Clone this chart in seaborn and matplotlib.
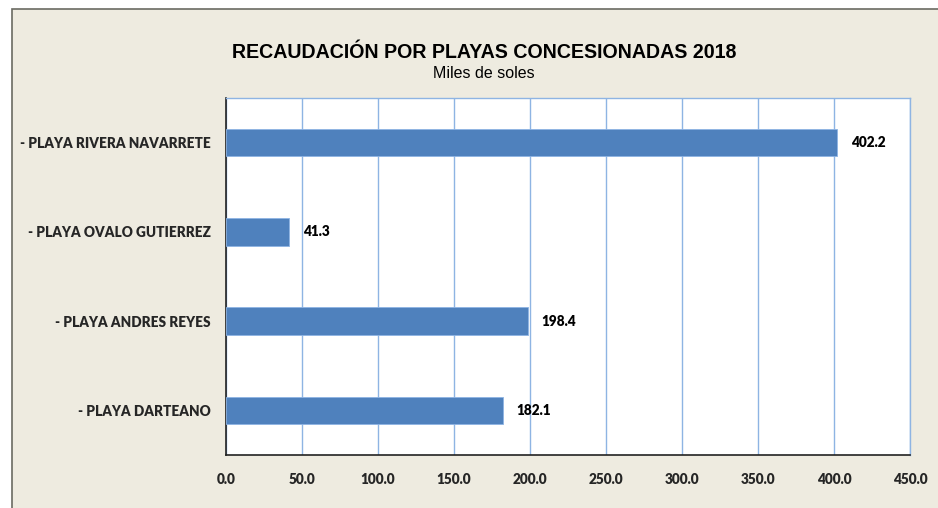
import matplotlib
matplotlib.use("Agg")
import matplotlib.pyplot as plt
import seaborn as sns
import pandas as pd
from matplotlib.patches import Rectangle

categories = ["- PLAYA RIVERA NAVARRETE", "- PLAYA OVALO GUTIERREZ", "- PLAYA ANDRES REYES", "- PLAYA DARTEANO"]
values = [402.2, 41.3, 198.4, 182.1]
xticks = [0, 50, 100, 150, 200, 250, 300, 350, 400, 450]

sns.set_theme(style="white")
plt.rcParams['font.family'] = ['Lato', 'DejaVu Sans']

W, H = 938, 508
fig = plt.figure(figsize=(W / 100, H / 100), dpi=100, facecolor="white")
bg = Rectangle((12 / W, -0.01), 1.0, 1 - 9 / H + 0.01, transform=fig.transFigure,
               facecolor="#EEEBE0", edgecolor="#6b6b62", linewidth=1.2, zorder=-10)
fig.patches.append(bg)

ax = fig.add_axes([226 / W, 1 - 455 / H, (910 - 226) / W, (455 - 98) / H])
ax.set_zorder(5)
ax.set_facecolor("white")

df = pd.DataFrame({"cat": categories, "val": values})
sns.barplot(data=df, x="val", y="cat", orient="h", color="#4F81BD", saturation=1,
            width=0.31, ax=ax, zorder=3, edgecolor="#8EB4E3", linewidth=0.6)

wt = "heavy"
ax.set_xlim(0, 450)
ax.set_xticks(xticks)
ax.set_xticklabels([f"{v:.1f}" for v in xticks], fontsize=9.8, fontweight=wt)
ax.tick_params(axis="x", length=0, pad=13)
ax.tick_params(axis="y", length=0, pad=11)
for lbl in ax.get_yticklabels():
    lbl.set_fontsize(9.8)
    lbl.set_fontweight(wt)
ax.set_xlabel("")
ax.set_ylabel("")
ax.grid(axis="x", color="#8EB4E3", linewidth=1.0, zorder=0)
ax.set_axisbelow(True)

for side in ["top", "right"]:
    ax.spines[side].set_color("#8EB4E3")
    ax.spines[side].set_linewidth(1.0)
for side in ["bottom", "left"]:
    ax.spines[side].set_color("#222222")
    ax.spines[side].set_linewidth(1.2)

for cont in ax.containers:
    ax.bar_label(cont, labels=[f"{v:.1f}" for v in values], padding=10,
                 fontsize=9.8, fontweight=wt, color="black")

fig.text(484 / W, 1 - 53 / H, "RECAUDACIÓN POR PLAYAS CONCESIONADAS 2018",
         ha="center", va="center", fontsize=14.1, fontweight="bold",
         family=["Liberation Sans", "DejaVu Sans"], color="black")
fig.text(484 / W, 1 - 74 / H, "Miles de soles", ha="center", va="center",
         fontsize=11.5, family=["Liberation Sans", "DejaVu Sans"], color="black")

fig.savefig("out.png", dpi=100, facecolor="white")
